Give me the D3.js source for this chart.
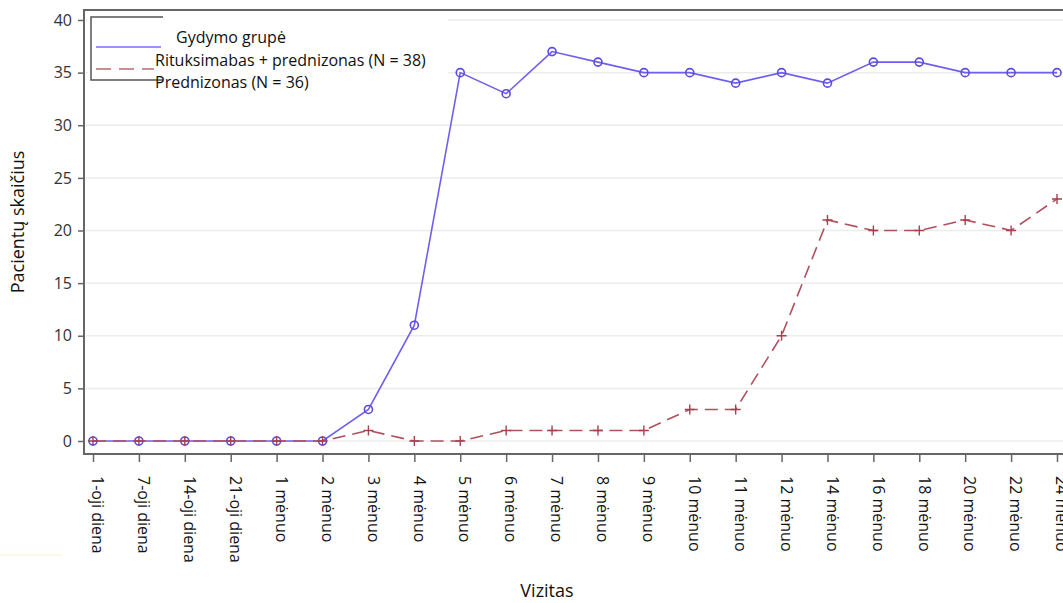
<!DOCTYPE html>
<html>
<head>
<meta charset="utf-8">
<script src="https://cdn.jsdelivr.net/npm/d3@7"></script>
<style>
  body { margin: 0; background: #fff; }
  svg { display: block; font-family: "Open Sans", "Noto Sans", sans-serif; }
</style>
</head>
<body>
<svg id="chart" width="1063" height="603"></svg>
<script>
// visits on the x axis
const visits = [
  '1-oji diena', '7-oji diena', '14-oji diena', '21-oji diena',
  '1 mėnuo', '2 mėnuo', '3 mėnuo', '4 mėnuo', '5 mėnuo', '6 mėnuo',
  '7 mėnuo', '8 mėnuo', '9 mėnuo', '10 mėnuo', '11 mėnuo', '12 mėnuo',
  '14 mėnuo', '16 mėnuo', '18 mėnuo', '20 mėnuo', '22 mėnuo', '24 mėnuo',
];
const rituximab = [0, 0, 0, 0, 0, 0, 3, 11, 35, 33, 37, 36, 35, 35, 34, 35, 34, 36, 36, 35, 35, 35];
const prednisone = [0, 0, 0, 0, 0, 0, 1, 0, 0, 1, 1, 1, 1, 3, 3, 10, 21, 20, 20, 21, 20, 23];
const yTicks = [0, 5, 10, 15, 20, 25, 30, 35, 40];
const legendTitle = 'Gydymo grupė';
const seriesNames = ['Rituksimabas + prednizonas (N = 38)', 'Prednizonas (N = 36)'];

const svg = d3.select('#chart');
const frame = { left: 84, top: 10, right: 1063, bottom: 454 };

const x = d3.scalePoint()
  .domain(visits)
  .range([93, 1057]);

const y = d3.scaleLinear()
  .domain([0, 40])
  .range([441, 20]);

// grid
svg.append('g')
  .selectAll('line')
  .data(yTicks)
  .join('line')
  .attr('x1', frame.left + 2)
  .attr('x2', frame.right)
  .attr('y1', (d) => y(d))
  .attr('y2', (d) => y(d))
  .attr('stroke', '#ececec')
  .attr('stroke-width', 1.5);

// legend box, only its left part has a border
const legend = svg.append('g');
legend.append('rect')
  .attr('x', 88).attr('y', 13)
  .attr('width', 360).attr('height', 70)
  .attr('fill', '#fff');
legend.append('path')
  .attr('d', 'M163,17H91V80H163')
  .attr('fill', 'none')
  .attr('stroke', '#555')
  .attr('stroke-width', 1.5);
legend.append('line')
  .attr('x1', 96).attr('x2', 161).attr('y1', 47).attr('y2', 47)
  .attr('stroke', '#7b6cf0').attr('stroke-width', 1.5);
legend.append('line')
  .attr('x1', 96).attr('x2', 154).attr('y1', 69).attr('y2', 69)
  .attr('stroke', '#b86a72').attr('stroke-width', 1.5)
  .attr('stroke-dasharray', '15,8');
legend.append('text')
  .attr('x', 176).attr('y', 43)
  .attr('font-size', 16).attr('fill', '#111')
  .text(legendTitle);
legend.selectAll('text.entry')
  .data(seriesNames)
  .join('text')
  .attr('class', 'entry')
  .attr('x', 155)
  .attr('y', (d, i) => 66 + i * 22)
  .attr('font-size', 16)
  .attr('fill', '#111')
  .text((d) => d);

// frame
svg.append('path')
  .attr('d', `M${frame.right},${frame.top}H${frame.left}V${frame.bottom}H${frame.right}`)
  .attr('fill', 'none')
  .attr('stroke', '#666')
  .attr('stroke-width', 2);

// y axis
const yAxis = svg.append('g')
  .attr('transform', `translate(${frame.left},0)`)
  .call(d3.axisLeft(y).tickValues(yTicks).tickSize(6).tickPadding(6));
yAxis.select('.domain').remove();
yAxis.selectAll('line').attr('stroke', '#666').attr('stroke-width', 1.5);
yAxis.selectAll('text')
  .attr('font-size', 16)
  .attr('font-family', '"Open Sans", sans-serif')
  .attr('fill', '#333');

// x axis
const xAxis = svg.append('g')
  .attr('transform', `translate(0,${frame.bottom})`)
  .call(d3.axisBottom(x).tickSize(8).tickPadding(0));
xAxis.select('.domain').remove();
xAxis.selectAll('line').attr('stroke', '#666').attr('stroke-width', 1.5);
xAxis.selectAll('text')
  .attr('font-size', 16)
  .attr('font-family', '"Open Sans", sans-serif')
  .attr('fill', '#111')
  .attr('text-anchor', 'start')
  .attr('dy', null)
  .attr('y', null)
  .attr('transform', 'translate(3,22) rotate(90)')
  .attr('dominant-baseline', 'middle');

// axis titles
svg.append('text')
  .attr('transform', 'translate(24,222) rotate(-90)')
  .attr('text-anchor', 'middle')
  .attr('font-size', 18)
  .attr('fill', '#111')
  .text('Pacientų skaičius');
svg.append('text')
  .attr('x', 547).attr('y', 597)
  .attr('text-anchor', 'middle')
  .attr('font-size', 18)
  .attr('fill', '#111')
  .text('Vizitas');

// faint artifact line at bottom left
svg.append('line')
  .attr('x1', 0).attr('x2', 62).attr('y1', 555).attr('y2', 555)
  .attr('stroke', '#fbf3c4').attr('stroke-width', 1);

const line = d3.line()
  .x((d, i) => x(visits[i]))
  .y((d) => y(d));

// rituximab + prednisone
svg.append('path')
  .datum(rituximab)
  .attr('d', line)
  .attr('fill', 'none')
  .attr('stroke', '#6f5ff0')
  .attr('stroke-width', 1.6);
svg.append('g')
  .selectAll('circle')
  .data(rituximab)
  .join('circle')
  .attr('cx', (d, i) => x(visits[i]))
  .attr('cy', (d) => y(d))
  .attr('r', 4)
  .attr('fill', 'none')
  .attr('stroke', '#5b4ae0')
  .attr('stroke-width', 1.6);

// prednisone
svg.append('path')
  .datum(prednisone)
  .attr('d', line)
  .attr('fill', 'none')
  .attr('stroke', '#b0505e')
  .attr('stroke-width', 1.6)
  .attr('stroke-dasharray', '13,7');
svg.append('g')
  .selectAll('path')
  .data(prednisone)
  .join('path')
  .attr('d', (d, i) => {
    const cx = x(visits[i]);
    const cy = y(d);
    return `M${cx - 5},${cy}H${cx + 5}M${cx},${cy - 5}V${cy + 5}`;
  })
  .attr('stroke', '#a8404e')
  .attr('stroke-width', 1.4);
</script>
</body>
</html>
